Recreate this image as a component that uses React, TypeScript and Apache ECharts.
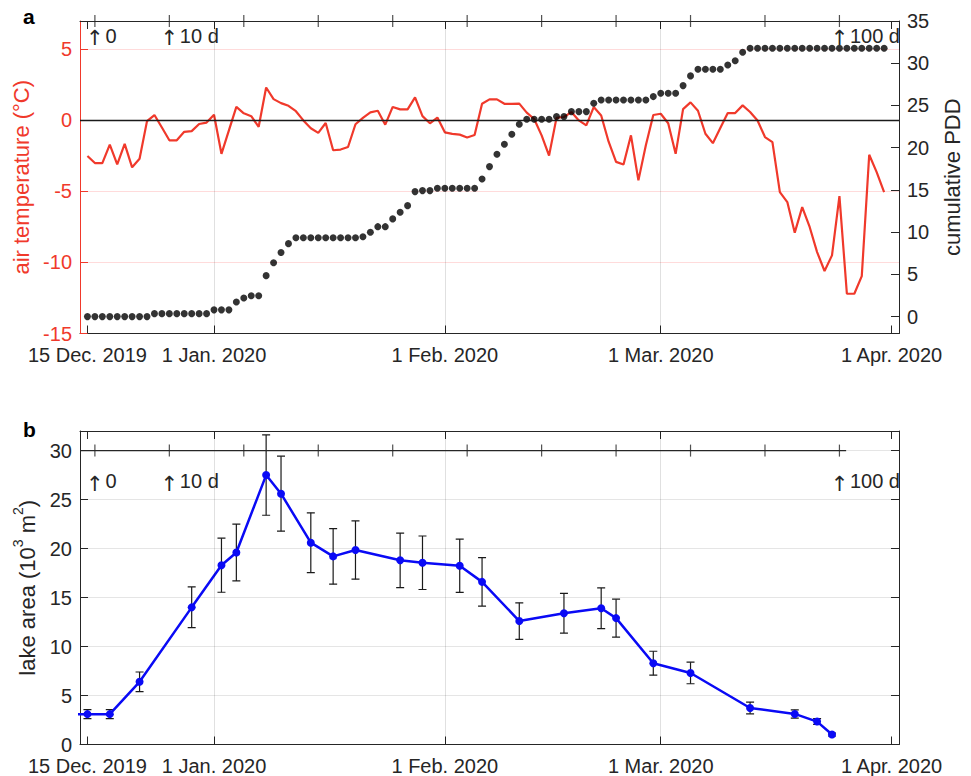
import React, { useEffect, useRef } from 'react';
import * as echarts from 'echarts';

// ---------- data ----------
const tempStartDate = '2019-12-15';
const dayAxisZeroDate = '2019-12-16';

// daily mean air temperature (°C), 15 Dec 2019 .. 31 Mar 2020
const airTemperature = [
  -2.5, -3.0, -3.0, -1.7, -3.1, -1.65, -3.3, -2.7, -0.05, 0.38,
  -0.5, -1.4, -1.4, -0.8, -0.75, -0.25, -0.15, 0.4, -2.35, -0.7,
  0.95, 0.5, 0.3, -0.45, 2.32, 1.5, 1.22, 1.03, 0.65, 0.0,
  -0.55, -0.88, -0.18, -2.1, -2.05, -1.87, -0.27, 0.18, 0.57, 0.68,
  -0.3, 0.95, 0.78, 0.78, 1.62, 0.3, -0.2, 0.2, -0.84, -0.95,
  -1.0, -1.2, -1.03, 1.17, 1.48, 1.48, 1.17, 1.17, 1.18, 0.55,
  0.1, -1.05, -2.47, 0.18, 0.24, 0.59, 0.0, -0.35, 0.94, 0.35,
  -1.5, -2.92, -3.1, -1.05, -4.22, -1.75, 0.38, 0.47, -0.2, -2.35,
  0.8, 1.27, 0.68, -0.94, -1.6, -0.54, 0.52, 0.52, 1.06, 0.59,
  0.0, -1.17, -1.53, -5.05, -5.75, -7.9, -6.1, -7.5, -9.27, -10.6,
  -9.5, -5.33, -12.2, -12.2, -10.96, -2.42, -3.64, -5.05,
];

// cumulative positive degree days, same dates
const cumulativePDD = [
  0, 0, 0, 0, 0, 0, 0, 0, 0, 0.35,
  0.35, 0.35, 0.35, 0.35, 0.35, 0.35, 0.35, 0.8, 0.8, 0.8,
  1.72, 2.2, 2.47, 2.47, 4.85, 6.38, 7.58, 8.64, 9.33, 9.33,
  9.33, 9.33, 9.33, 9.33, 9.33, 9.33, 9.33, 9.45, 9.99, 10.65,
  10.65, 11.57, 12.36, 13.14, 14.8, 14.92, 14.92, 15.2, 15.2, 15.2,
  15.2, 15.2, 15.2, 16.3, 17.76, 19.23, 20.41, 21.6, 22.78, 23.37,
  23.37, 23.37, 23.37, 23.68, 23.68, 24.27, 24.27, 24.27, 25.26, 25.65,
  25.65, 25.65, 25.65, 25.65, 25.65, 25.65, 26.05, 26.45, 26.45, 26.45,
  27.35, 28.5, 29.29, 29.29, 29.29, 29.29, 29.8, 30.3, 31.3, 31.77,
  31.77, 31.77, 31.77, 31.77, 31.77, 31.77, 31.77, 31.77, 31.77, 31.77,
  31.77, 31.77, 31.77, 31.77, 31.77, 31.77, 31.77, 31.77,
];

// lake area (10^3 m^2) with uncertainty
const lakeDates = [
  '2019-12-10', '2019-12-15', '2019-12-18', '2019-12-22', '2019-12-29',
  '2020-01-02', '2020-01-04', '2020-01-08', '2020-01-10', '2020-01-14',
  '2020-01-17', '2020-01-20', '2020-01-26', '2020-01-29', '2020-02-03',
  '2020-02-06', '2020-02-11', '2020-02-17', '2020-02-22', '2020-02-24',
  '2020-02-29', '2020-03-05', '2020-03-13', '2020-03-19', '2020-03-22',
  '2020-03-24',
];
const lakeArea = [
  3.1, 3.1, 3.1, 6.4, 14.0,
  18.3, 19.6, 27.5, 25.6, 20.6,
  19.2, 19.85, 18.8, 18.55, 18.25,
  16.6, 12.6, 13.4, 13.9, 12.9,
  8.3, 7.3, 3.73, 3.12, 2.34,
  1.02,
];
const lakeAreaError = [
  0.45, 0.45, 0.45, 1.0, 2.08,
  2.76, 2.9, 4.1, 3.83, 3.05,
  2.83, 2.97, 2.78, 2.73, 2.72,
  2.47, 1.86, 2.03, 2.08, 1.93,
  1.22, 1.1, 0.6, 0.42, 0.3,
  0.15,
];

const dateTickDates = ['2019-12-15', '2020-01-01', '2020-02-01', '2020-03-01', '2020-04-01'];
const dateTickLabels = ['15 Dec. 2019', '1 Jan. 2020', '1 Feb. 2020', '1 Mar. 2020', '1 Apr. 2020'];
const gridDates = ['2020-01-01', '2020-02-01', '2020-03-01'];
const xRangeDates = ['2019-12-14', '2020-04-02'];

const dayTicks = [0, 10, 20, 30, 40, 50, 60, 70, 80, 90, 100];
const dayLabelDays = [0, 10, 100];
const dayLabelTexts = ['0', '10 d', '100 d'];
const dayAxisExtentB = [-2, 100.9];

const tempTicks = [-15, -10, -5, 0, 5];
const tempRange = [-15, 7];
const pddTicks = [0, 5, 10, 15, 20, 25, 30, 35];
const pddRange = [-2, 35];
const areaTicks = [0, 5, 10, 15, 20, 25, 30];
const areaRange = [0, 32];

// ---------- helpers ----------
const MS_DAY = 86400000;
const toUTC = (s: string) => {
  const [y, m, d] = s.split('-').map(Number);
  return Date.UTC(y, m - 1, d);
};
const dayOf = (s: string) => Math.round((toUTC(s) - toUTC(tempStartDate)) / MS_DAY);
const dayZero = dayOf(dayAxisZeroDate);

const RED = '#f0392b';
const BLUE = '#0a0af5';
const TXT = '#262626';
const FONT = '"Liberation Sans", Arial, Helvetica, sans-serif';

export default function App() {
  const ref = useRef<HTMLDivElement>(null);

  useEffect(() => {
    if (!ref.current) return;
    const chart = echarts.init(ref.current, undefined, { renderer: 'svg' });

    const tickDays = dateTickDates.map(dayOf);
    const xMin = dayOf(xRangeDates[0]);
    const xMax = dayOf(xRangeDates[1]);
    const fmtDate = (v: number) => {
      const i = tickDays.findIndex((t) => Math.abs(t - v) < 0.01);
      return i >= 0 ? dateTickLabels[i] : '';
    };

    const dateAxis = (gridIndex: number, position: string, labels: boolean) => ({
      type: 'value',
      gridIndex,
      position,
      min: xMin,
      max: xMax,
      axisLine: { show: true, onZero: false, lineStyle: { color: TXT, width: 1 } },
      axisTick: { show: true, inside: true, length: 8, customValues: tickDays, lineStyle: { color: TXT } },
      axisLabel: labels
        ? { show: true, customValues: tickDays, formatter: fmtDate, fontSize: 20, color: TXT, fontFamily: FONT, margin: 11 }
        : { show: false },
      splitLine: { show: false },
    });

    const tempData = airTemperature.map((v, i) => [i, v]);
    const pddData = cumulativePDD.map((v, i) => [i, v]);
    const lakeDays = lakeDates.map(dayOf);
    const lakeData = lakeDays.map((d, i) => [d, lakeArea[i]]);
    const errData = lakeDays.map((d, i) => [d, lakeArea[i] - lakeAreaError[i], lakeArea[i] + lakeAreaError[i]]);

    const vGrid = gridDates.map((d) => ({ xAxis: dayOf(d) }));

    const dayTickSeries = (xi: number, yi: number, yv: number) => ({
      type: 'scatter',
      xAxisIndex: xi,
      yAxisIndex: yi,
      clip: false,
      silent: true,
      symbol: 'rect',
      symbolSize: [1.2, 12],
      itemStyle: { color: TXT },
      data: dayTicks.map((k) => [dayZero + k, yv]),
      z: 6,
    });
    const labelBase = {
      show: true,
      position: 'inside',
      color: TXT,
      opacity: 1,
      textBorderWidth: 0,
      textShadowBlur: 0,
      verticalAlign: 'middle',
    };
    const arrowSeries = (xi: number, yi: number, yv: number) => ({
      type: 'scatter',
      xAxisIndex: xi,
      yAxisIndex: yi,
      clip: false,
      silent: true,
      symbolSize: 1,
      itemStyle: { color: 'rgba(255,255,255,0)' },
      label: {
        ...labelBase,
        formatter: '↑',
        fontSize: 21,
        fontFamily: '"DejaVu Sans", sans-serif',
        align: 'center',
      },
      data: dayLabelDays.map((k) => [dayZero + k, yv]),
      z: 7,
    });
    const dayTextSeries = (xi: number, yi: number, yv: number) => ({
      type: 'scatter',
      xAxisIndex: xi,
      yAxisIndex: yi,
      clip: false,
      silent: true,
      symbolSize: 1,
      itemStyle: { color: 'rgba(255,255,255,0)' },
      label: {
        ...labelBase,
        formatter: '{b}',
        fontSize: 20,
        fontFamily: FONT,
        align: 'left',
        offset: [10.5, 0],
      },
      data: dayLabelDays.map((k, i) => ({ name: dayLabelTexts[i], value: [dayZero + k, yv] })),
      z: 7,
    });

    const option = {
      animation: false,
      backgroundColor: '#ffffff',
      textStyle: { fontFamily: FONT },
      grid: [
        { left: 80, top: 21, width: 819, height: 312.5 },
        { left: 80, top: 431, width: 819, height: 313.5 },
      ],
      graphic: [
        { type: 'text', left: 23, top: 6, style: { text: 'a', font: `bold 21px ${FONT}`, fill: '#000' } },
        { type: 'text', left: 23, top: 419, style: { text: 'b', font: `bold 21px ${FONT}`, fill: '#000' } },
      ],
      xAxis: [
        dateAxis(0, 'bottom', true),
        dateAxis(0, 'top', false),
        dateAxis(1, 'bottom', true),
        dateAxis(1, 'top', false),
      ],
      yAxis: [
        {
          type: 'value',
          gridIndex: 0,
          position: 'left',
          min: tempRange[0],
          max: tempRange[1],
          axisLine: { show: true, onZero: false, lineStyle: { color: RED } },
          axisTick: { show: true, inside: true, length: 8, customValues: tempTicks, lineStyle: { color: RED } },
          axisLabel: { customValues: tempTicks, color: RED, fontSize: 20, fontFamily: FONT, margin: 8 },
          splitLine: { show: true, lineStyle: { color: 'rgba(255,0,0,0.14)', width: 1 } },
          name: 'air temperature (°C)',
          nameLocation: 'middle',
          nameGap: 44,
          nameRotate: 90,
          nameTextStyle: { color: RED, fontSize: 22, fontFamily: FONT },
        },
        {
          type: 'value',
          gridIndex: 0,
          position: 'right',
          min: pddRange[0],
          max: pddRange[1],
          axisLine: { show: true, onZero: false, lineStyle: { color: TXT } },
          axisTick: { show: true, inside: true, length: 8, customValues: pddTicks, lineStyle: { color: TXT } },
          axisLabel: { customValues: pddTicks, color: TXT, fontSize: 20, fontFamily: FONT, margin: 8 },
          splitLine: { show: false },
          name: 'cumulative PDD',
          nameLocation: 'middle',
          nameGap: 42,
          nameRotate: 90,
          nameTextStyle: { color: TXT, fontSize: 22, fontFamily: FONT },
        },
        {
          type: 'value',
          gridIndex: 1,
          position: 'left',
          min: areaRange[0],
          max: areaRange[1],
          axisLine: { show: true, onZero: false, lineStyle: { color: TXT } },
          axisTick: { show: true, inside: true, length: 8, customValues: areaTicks, lineStyle: { color: TXT } },
          axisLabel: { customValues: areaTicks, color: TXT, fontSize: 20, fontFamily: FONT, margin: 8 },
          splitLine: { show: true, lineStyle: { color: 'rgba(0,0,0,0.1)', width: 1 } },
          name: '{n|lake area (10}{s|3}{n| m}{s|2}{n|)}',
          nameLocation: 'middle',
          nameGap: 33,
          nameRotate: 90,
          nameTextStyle: {
            color: TXT,
            fontSize: 22,
            fontFamily: FONT,
            rich: {
              n: { fontSize: 22, fontFamily: FONT, color: TXT, lineHeight: 28, verticalAlign: 'bottom' },
              s: { fontSize: 14, fontFamily: FONT, color: TXT, lineHeight: 14, verticalAlign: 'top' },
            },
          },
        },
        {
          type: 'value',
          gridIndex: 1,
          position: 'right',
          min: areaRange[0],
          max: areaRange[1],
          axisLine: { show: true, onZero: false, lineStyle: { color: TXT } },
          axisTick: { show: true, inside: true, length: 8, customValues: areaTicks, lineStyle: { color: TXT } },
          axisLabel: { show: false },
          splitLine: { show: false },
        },
      ],
      series: [
        // grid lines & zero line, panel a
        {
          type: 'line',
          xAxisIndex: 0,
          yAxisIndex: 0,
          data: [],
          silent: true,
          z: 1,
          markLine: {
            silent: true,
            symbol: 'none',
            label: { show: false },
            lineStyle: { color: 'rgba(0,0,0,0.12)', width: 1, type: 'solid' },
            data: [...vGrid, { yAxis: 0, lineStyle: { color: '#1a1a1a', width: 1.3, type: 'solid' } }],
          },
        },
        {
          type: 'line',
          name: 'air temperature',
          xAxisIndex: 0,
          yAxisIndex: 0,
          data: tempData,
          showSymbol: false,
          symbol: 'none',
          lineStyle: { color: RED, width: 2.2 },
          itemStyle: { color: RED },
          z: 3,
        },
        {
          type: 'scatter',
          name: 'cumulative PDD',
          xAxisIndex: 0,
          yAxisIndex: 1,
          data: pddData,
          symbol: 'circle',
          symbolSize: 7,
          itemStyle: { color: '#000' },
          z: 4,
        },
        dayTickSeries(0, 0, tempRange[1]),
        arrowSeries(0, 0, 5.8),
        dayTextSeries(0, 0, 5.92),

        // panel b
        {
          type: 'line',
          xAxisIndex: 2,
          yAxisIndex: 2,
          data: [],
          silent: true,
          z: 1,
          markLine: {
            silent: true,
            symbol: 'none',
            label: { show: false },
            lineStyle: { color: 'rgba(0,0,0,0.12)', width: 1, type: 'solid' },
            data: vGrid,
          },
        },
        {
          type: 'line',
          xAxisIndex: 2,
          yAxisIndex: 2,
          silent: true,
          showSymbol: false,
          symbol: 'none',
          lineStyle: { color: TXT, width: 1.2 },
          data: [
            [dayZero + dayAxisExtentB[0], 30],
            [dayZero + dayAxisExtentB[1], 30],
          ],
          z: 5,
        },
        dayTickSeries(2, 2, 30),
        arrowSeries(2, 2, 26.6),
        dayTextSeries(2, 2, 26.9),
        {
          type: 'custom',
          name: 'error',
          xAxisIndex: 2,
          yAxisIndex: 2,
          clip: true,
          silent: true,
          data: errData,
          encode: { x: 0, y: [1, 2] },
          renderItem: (params: any, api: any) => {
            const x = api.value(0);
            const lo = api.coord([x, api.value(1)]);
            const hi = api.coord([x, api.value(2)]);
            const w = 4;
            const st = { stroke: '#1a1a1a', lineWidth: 1.2 };
            return {
              type: 'group',
              children: [
                { type: 'line', shape: { x1: lo[0], y1: lo[1], x2: hi[0], y2: hi[1] }, style: st },
                { type: 'line', shape: { x1: lo[0] - w, y1: lo[1], x2: lo[0] + w, y2: lo[1] }, style: st },
                { type: 'line', shape: { x1: hi[0] - w, y1: hi[1], x2: hi[0] + w, y2: hi[1] }, style: st },
              ],
            };
          },
          z: 3,
        },
        {
          type: 'line',
          name: 'lake area',
          xAxisIndex: 2,
          yAxisIndex: 2,
          data: lakeData,
          clip: true,
          symbol: 'circle',
          symbolSize: 8,
          showSymbol: true,
          lineStyle: { color: BLUE, width: 2.5 },
          itemStyle: { color: BLUE },
          z: 4,
        },
      ],
    };

    chart.setOption(option as any);
    return () => chart.dispose();
  }, []);

  return (
    <div
      ref={ref}
      style={{ position: 'fixed', left: 0, top: 0, width: 971, height: 776, background: '#fff' }}
    />
  );
}
